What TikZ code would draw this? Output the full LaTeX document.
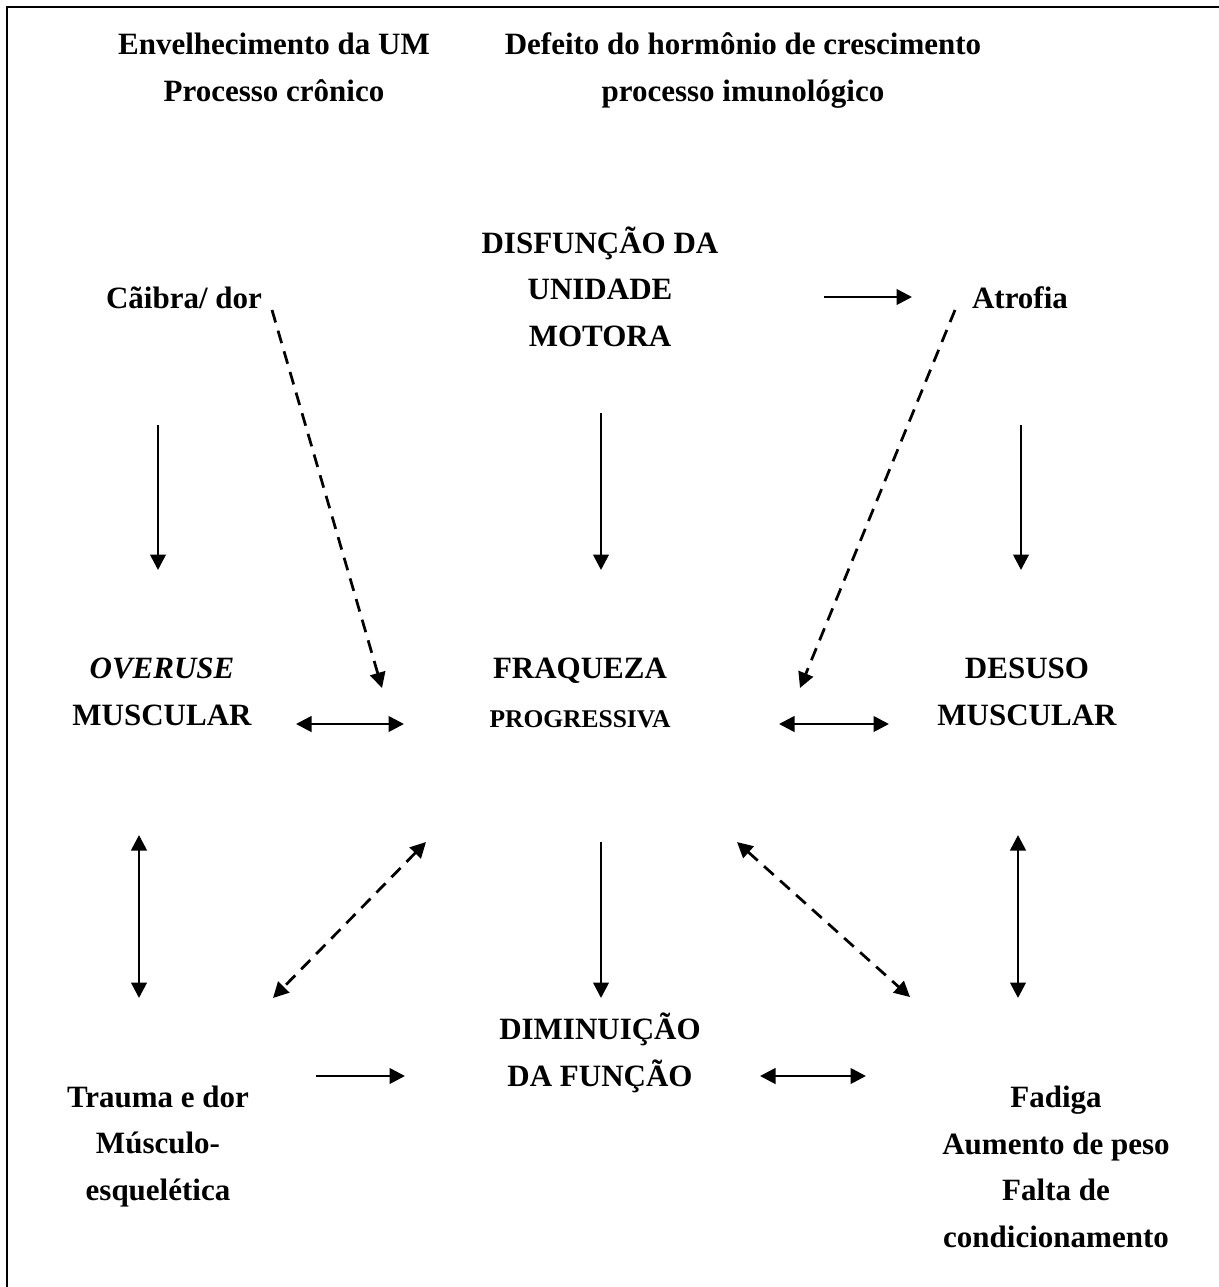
\documentclass[tikz,border=0pt]{standalone}
\usepackage{fontspec}
\setmainfont{Liberation Serif}
\usetikzlibrary{arrows.meta}

\begin{document}
\begin{tikzpicture}[x=0.4pt,y=-0.4pt,line width=1.1pt,>={Triangle[length=6.2pt,width=6.2pt]}]
	\tikzstyle{term}=[font=\fontsize{12.4}{18.6}\selectfont\bfseries,align=center,anchor=base,inner sep=0pt]
	\tikzstyle{dashed arrow}=[dash pattern=on 5.2pt off 3.4pt]
	\useasboundingbox (0,0) rectangle (1219,1287);
	
	% Frame (only top and left edges are on the page)
	\draw[line width=0.8pt] (1230,7) -- (7,7) -- (7,1300);
	
	% Draw the causes on top (base = last line)
	\node[term] (ageing) at (274,101) {Envelhecimento da UM\\Processo crônico};
	\node[term] (defect) at (743,101) {Defeito do hormônio de crescimento\\processo imunológico};
	
	% Draw the first row
	\node[term] (cramp) at (184,308) {Cãibra/ dor};
	\node[term] (dum) at (600,346) {DISFUNÇÃO DA\\UNIDADE\\MOTORA};
	\node[term] (atrophy) at (1020,308) {Atrofia};
	
	% Draw the second row
	\node[term] (overuse) at (162,725) {\textit{OVERUSE}\\MUSCULAR};
	\node[term] (weak) at (580,727) {FRAQUEZA\\[1pt]{\fontsize{10.2}{18.6}\selectfont PROGRESSIVA}};
	\node[term] (disuse) at (1027,725) {DESUSO\\MUSCULAR};
	
	% Draw the third row
	\node[term] (trauma) at (158,1200) {Trauma e dor\\Músculo-\\esquelética};
	\node[term] (decline) at (600,1086) {DIMINUIÇÃO\\DA FUNÇÃO};
	\node[term] (fatigue) at (1056,1247) {Fadiga\\Aumento de peso\\Falta de\\condicionamento};
	
	% Arrow ends
	\coordinate (cramp-s) at (158,425);   \coordinate (overuse-n) at (158,570);
	\coordinate (dum-s) at (601,413);     \coordinate (weak-n) at (601,570);
	\coordinate (dum-e) at (824,297);     \coordinate (atrophy-w) at (912,297);
	\coordinate (atrophy-s) at (1021,425); \coordinate (disuse-n) at (1021,570);
	\coordinate (cramp-se) at (272,310);  \coordinate (weak-nw) at (382,688);
	\coordinate (atrophy-sw) at (955,310); \coordinate (weak-ne) at (800,688);
	\coordinate (overuse-e) at (296,724); \coordinate (weak-w) at (404,724);
	\coordinate (weak-e) at (779,724);    \coordinate (disuse-w) at (889,724);
	\coordinate (overuse-s) at (139,835); \coordinate (trauma-n) at (139,998);
	\coordinate (weak-sw) at (426,842);   \coordinate (trauma-ne) at (273,998);
	\coordinate (weak-s) at (601,842);    \coordinate (decline-n) at (601,998);
	\coordinate (weak-se) at (737,842);   \coordinate (fatigue-nw) at (910,997);
	\coordinate (disuse-s) at (1018,835); \coordinate (fatigue-n) at (1018,998);
	\coordinate (trauma-e) at (316,1076); \coordinate (decline-w) at (405,1076);
	\coordinate (decline-e) at (760,1076); \coordinate (fatigue-w) at (866,1076);
	
	% Connect the terms
	\draw[->] (cramp-s) -- (overuse-n);
	\draw[->] (dum-s) -- (weak-n);
	\draw[->] (dum-e) -- (atrophy-w);
	\draw[->] (atrophy-s) -- (disuse-n);
	\draw[->,dashed arrow] (cramp-se) -- (weak-nw);
	\draw[->,dashed arrow] (atrophy-sw) -- (weak-ne);
	\draw[<->] (overuse-e) -- (weak-w);
	\draw[<->] (weak-e) -- (disuse-w);
	\draw[<->] (overuse-s) -- (trauma-n);
	\draw[<->,dashed arrow] (weak-sw) -- (trauma-ne);
	\draw[->] (weak-s) -- (decline-n);
	\draw[<->,dashed arrow] (weak-se) -- (fatigue-nw);
	\draw[<->] (disuse-s) -- (fatigue-n);
	\draw[->] (trauma-e) -- (decline-w);
	\draw[<->] (decline-e) -- (fatigue-w);
	
\end{tikzpicture}
\end{document}
